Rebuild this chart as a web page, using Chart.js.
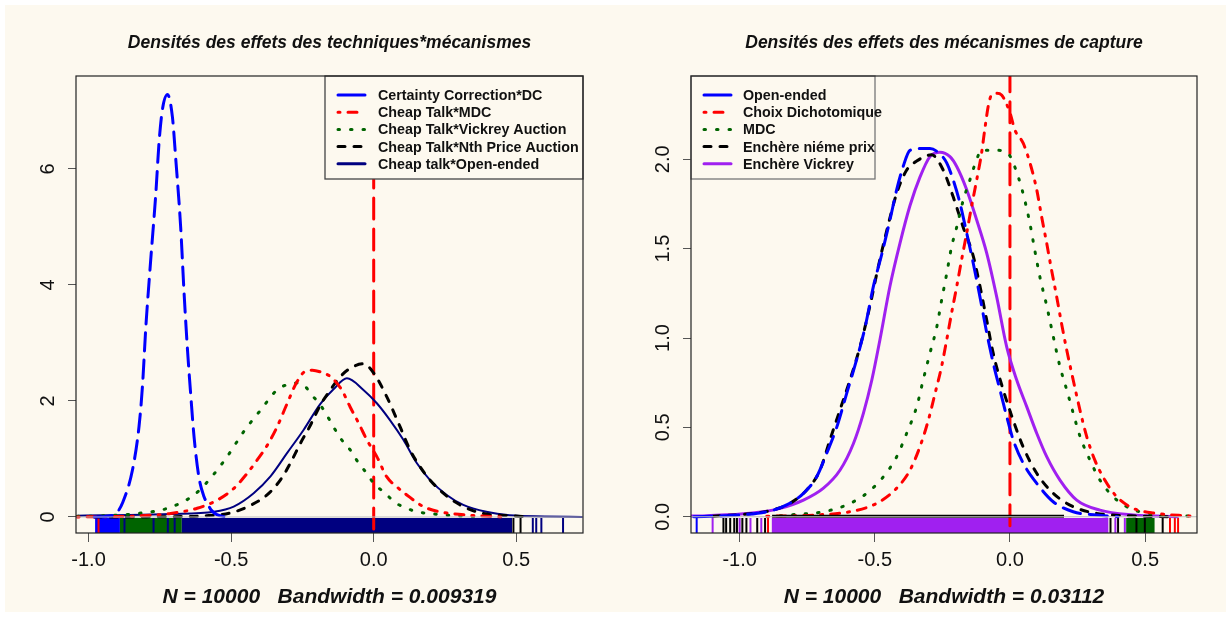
<!DOCTYPE html>
<html><head><meta charset="utf-8">
<script src="https://cdn.jsdelivr.net/npm/chart.js@4.4.0/dist/chart.umd.min.js"></script>
<style>
html,body{margin:0;padding:0;background:#fff;width:1231px;height:617px;overflow:hidden;position:relative;}
#bg{position:absolute;left:5px;top:5px;width:1221px;height:607px;background:#fdf9ef;}
canvas{position:absolute;top:0;}
#c1{left:0;}
#c2{left:615px;}
</style></head><body>
<div id="bg"></div>
<canvas id="c1" width="615" height="617"></canvas>
<canvas id="c2" width="616" height="617"></canvas>
<script>
// ---------- LEFT PANEL DATA ----------
const leftTitle = 'Densités des effets des techniques*mécanismes';
const leftSub = 'N = 10000   Bandwidth = 0.009319';
const leftLabels = ['Certainty Correction*DC','Cheap Talk*MDC','Cheap Talk*Vickrey Auction','Cheap Talk*Nth Price Auction','Cheap talk*Open-ended'];
const leftXTicks = [-1, -0.5, 0, 0.5];
const leftYTicks = [0, 2, 4, 6];

const ccdcX = [-0.98,-0.94,-0.91,-0.898,-0.881,-0.846,-0.823,-0.811,-0.799,-0.782,-0.764,-0.753,-0.741,-0.723,-0.706,-0.694,-0.677,-0.665,-0.653,-0.642,-0.630,-0.613,-0.595,-0.584,-0.57,-0.55,-0.52];
const ccdcY = [0.0,0.01,0.04,0.09,0.24,0.81,1.56,2.25,3.28,4.43,5.58,6.44,7.02,7.28,6.90,6.16,5.0,3.86,2.88,2.13,1.38,0.69,0.35,0.24,0.12,0.04,0.0];

const ctMdcX = [-1.04,-0.95,-0.87,-0.78,-0.712,-0.619,-0.549,-0.491,-0.444,-0.409,-0.374,-0.339,-0.304,-0.269,-0.24,-0.215,-0.187,-0.152,-0.112,-0.083,-0.053,-0.024,0.011,0.046,0.081,0.116,0.174,0.232,0.337,0.45];
const ctMdcY = [0.0,0.005,0.01,0.03,0.06,0.15,0.29,0.49,0.75,0.98,1.23,1.55,1.95,2.33,2.51,2.53,2.50,2.42,2.19,1.90,1.62,1.33,1.04,0.69,0.52,0.38,0.18,0.09,0.03,0.0];

const ctVickX = [-1.04,-0.946,-0.828,-0.723,-0.630,-0.572,-0.514,-0.456,-0.397,-0.339,-0.304,-0.270,-0.240,-0.222,-0.187,-0.158,-0.117,-0.083,-0.053,-0.024,0.0,0.04,0.075,0.116,0.151,0.197,0.29,0.38];
const ctVickY = [0.01,0.02,0.06,0.15,0.38,0.67,1.04,1.47,1.84,2.19,2.28,2.31,2.25,2.13,1.93,1.70,1.36,1.16,0.93,0.75,0.58,0.41,0.25,0.15,0.09,0.06,0.02,0.0];

const ctNthX = [-0.98,-0.7,-0.596,-0.502,-0.432,-0.374,-0.327,-0.292,-0.257,-0.222,-0.187,-0.152,-0.117,-0.083,-0.036,0.0,0.046,0.092,0.127,0.162,0.197,0.244,0.302,0.384,0.49,0.55];
const ctNthY = [0.0,0.005,0.02,0.07,0.2,0.38,0.64,0.93,1.27,1.58,1.93,2.19,2.42,2.56,2.64,2.48,2.07,1.56,1.16,0.87,0.64,0.41,0.21,0.06,0.02,0.0];

const ctOeX = [-1.04,-0.95,-0.712,-0.560,-0.491,-0.421,-0.362,-0.304,-0.246,-0.187,-0.141,-0.094,-0.036,0.011,0.057,0.104,0.151,0.197,0.256,0.314,0.395,0.477,0.6,0.73];
const ctOeY = [0.02,0.03,0.05,0.09,0.18,0.41,0.70,1.10,1.50,1.95,2.20,2.39,2.19,1.96,1.67,1.33,0.93,0.64,0.38,0.21,0.09,0.03,0.01,0.0];

// rug (observations along x) : dense ranges and single marks, per series
const leftRugBands = [[[-0.977,-0.89]], [], [[-0.89,-0.673]], [], [[-0.673,0.485]]];
const leftRugMarks = [[-0.97,-0.955,-0.93], [-0.965], [], [0.49,0.515], [-0.874,-0.772,-0.722,-0.698,0.558,0.570,0.588,0.664]];

// ---------- RIGHT PANEL DATA ----------
const rightTitle = 'Densités des effets des mécanismes de capture';
const rightSub = 'N = 10000   Bandwidth = 0.03112';
const rightLabels = ['Open-ended','Choix Dichotomique','MDC','Enchère niéme prix','Enchère Vickrey'];
const rightXTicks = [-1, -0.5, 0, 0.5];
const rightYTicks = [0, 0.5, 1, 1.5, 2];

const oeX = [-1.17,-1.0,-0.9,-0.826,-0.764,-0.715,-0.678,-0.641,-0.604,-0.567,-0.536,-0.505,-0.474,-0.444,-0.419,-0.395,-0.37,-0.333,-0.296,-0.259,-0.234,-0.210,-0.185,-0.160,-0.136,-0.111,-0.086,-0.062,-0.037,-0.012,0.012,0.049,0.099,0.16,0.234,0.32,0.4];
const oeY = [0.0,0.01,0.028,0.066,0.131,0.224,0.355,0.50,0.69,0.88,1.06,1.29,1.47,1.66,1.83,1.96,2.05,2.06,2.06,2.03,1.98,1.885,1.755,1.587,1.42,1.23,1.03,0.86,0.71,0.56,0.43,0.30,0.187,0.084,0.028,0.01,0.0];

const dichX = [-0.9,-0.715,-0.592,-0.493,-0.419,-0.37,-0.333,-0.302,-0.277,-0.253,-0.234,-0.216,-0.197,-0.179,-0.16,-0.142,-0.123,-0.105,-0.092,-0.08,-0.068,-0.049,-0.031,0.0,0.018,0.049,0.074,0.099,0.117,0.136,0.154,0.173,0.191,0.21,0.234,0.259,0.284,0.314,0.351,0.395,0.456,0.54,0.666];
const dichY = [0.003,0.01,0.028,0.075,0.16,0.26,0.392,0.54,0.69,0.84,0.99,1.139,1.288,1.437,1.587,1.736,1.885,2.035,2.18,2.30,2.36,2.37,2.36,2.26,2.165,2.09,1.98,1.83,1.68,1.53,1.38,1.23,1.08,0.933,0.765,0.597,0.448,0.317,0.205,0.112,0.047,0.019,0.004];

const mdcX = [-0.85,-0.814,-0.69,-0.604,-0.53,-0.468,-0.419,-0.382,-0.345,-0.321,-0.296,-0.271,-0.253,-0.234,-0.216,-0.197,-0.173,-0.148,-0.123,-0.105,-0.049,-0.006,0.031,0.055,0.074,0.092,0.111,0.136,0.16,0.185,0.21,0.234,0.259,0.296,0.333,0.382,0.444,0.54,0.666];
const mdcY = [0.005,0.01,0.028,0.066,0.131,0.224,0.336,0.467,0.616,0.765,0.915,1.06,1.21,1.36,1.51,1.62,1.77,1.885,2.0,2.05,2.05,2.03,1.90,1.77,1.64,1.49,1.34,1.18,1.01,0.84,0.71,0.58,0.45,0.317,0.205,0.112,0.047,0.013,0.004];

const nthX = [-1.1,-0.974,-0.888,-0.814,-0.752,-0.703,-0.666,-0.629,-0.592,-0.555,-0.518,-0.487,-0.456,-0.419,-0.382,-0.345,-0.29,-0.247,-0.210,-0.173,-0.136,-0.111,-0.086,-0.062,-0.025,0.012,0.049,0.099,0.16,0.234,0.32,0.45,0.6];
const nthY = [0.003,0.015,0.034,0.075,0.15,0.26,0.43,0.597,0.765,0.95,1.18,1.40,1.60,1.81,1.94,1.99,2.025,1.94,1.79,1.62,1.46,1.29,1.10,0.915,0.71,0.54,0.39,0.243,0.131,0.056,0.019,0.005,0.0];

const vickX = [-1.18,-1.12,-0.962,-0.85,-0.764,-0.69,-0.629,-0.579,-0.542,-0.511,-0.481,-0.444,-0.407,-0.37,-0.333,-0.296,-0.259,-0.222,-0.197,-0.16,-0.123,-0.086,-0.049,-0.012,0.025,0.062,0.099,0.136,0.185,0.247,0.333,0.456,0.54,0.62];
const vickY = [0.004,0.006,0.019,0.047,0.093,0.16,0.26,0.41,0.58,0.765,0.99,1.29,1.53,1.74,1.90,2.015,2.04,2.015,1.96,1.83,1.66,1.475,1.23,0.95,0.765,0.616,0.467,0.336,0.205,0.093,0.037,0.01,0.004,0.0];

// black base segment seen along y = 0 in the right panel
const nthBaseX = [-0.88, 0.2];
const nthBaseY = [0.003, 0.003];

const rightRugBands = [[], [], [[0.43,0.535]], [], [[-0.881,0.364]]];
const rightRugMarks = [[-1.159], [-0.895,0.592,0.61,0.622], [], [-1.06,-1.05,-1.035,-1.02,-1.01,-0.99,-0.975,-0.935,-0.906,0.372,0.40,0.468,0.499,0.565], [-1.10,-1.0,-0.96,-0.92,0.39,0.425]];

const refLineX = 0; // abline(v = 0)

// ---------- STYLES ----------
const BG = '#fdf9ef';
const LONGDASH=[18,9], DOTDASH=[2,8,9,8], DOTTED=[1.5,11], DASHED=[7,9], SOLID=[];
const leftColors = ['#0000FF','#FF0000','#006400','#000000','#000080'];
const rightColors = ['#0000FF','#FF0000','#006400','#000000','#A020F0'];
const curveDash = [LONGDASH, DOTDASH, DOTTED, DASHED, SOLID];
const legendDash = [SOLID, DOTDASH, DOTTED, DASHED, SOLID];
const leftWidths = [3,3,3,3,2];
const rightWidths = [3,3,3,3,3];

Chart.defaults.font.family = '"Liberation Sans", Arial, sans-serif';
Chart.defaults.color = '#111';

function curves(xs, ys, labels, colors, widths){
  return labels.map((lab,i)=>({
    label: lab,
    data: xs[i].map((x,j)=>({x:x, y:ys[i][j]})),
    borderColor: colors[i], borderWidth: widths[i], borderDash: curveDash[i],
    borderCapStyle:'round', borderJoinStyle:'round',
    pointRadius:0, cubicInterpolationMode:'monotone', fill:false
  }));
}

function rPlugin(p){
  return {
    id: 'rplot_' + p.key,
    beforeDatasetsDraw(chart){
      const ctx = chart.ctx, a = chart.chartArea, xs = chart.scales.x;
      ctx.save();
      ctx.beginPath(); ctx.rect(a.left, a.top, a.right-a.left, a.bottom-a.top); ctx.clip();
      const top = a.bottom - 15, h = 15;
      for (let i=0;i<p.colors.length;i++){
        ctx.fillStyle = p.colors[i]; ctx.strokeStyle = p.colors[i]; ctx.lineWidth = 2;
        p.bands[i].forEach(b=>{
          const x0 = xs.getPixelForValue(b[0]), x1 = xs.getPixelForValue(b[1]);
          ctx.fillRect(x0, top, x1-x0, h);
        });
        p.marks[i].forEach(v=>{
          const x = xs.getPixelForValue(v);
          ctx.beginPath(); ctx.moveTo(x, top); ctx.lineTo(x, a.bottom); ctx.stroke();
        });
      }
      ctx.restore();
    },
    afterDatasetsDraw(chart){
      const ctx = chart.ctx, a = chart.chartArea, ys = chart.scales.y;
      ctx.save();
      // legend
      const L = p.legend;
      const lx = L.alignRight ? a.right - L.w : a.left, ly = a.top;
      ctx.fillStyle = BG; ctx.fillRect(lx, ly, L.w, L.h);
      ctx.strokeStyle = L.border; ctx.lineWidth = 1.3; ctx.strokeRect(lx, ly, L.w, L.h);
      p.labels.forEach((lab,i)=>{
        const yy = ly + 19 + i*17.2;
        ctx.strokeStyle = p.colors[i]; ctx.lineWidth = 3; ctx.lineCap = 'round';
        ctx.setLineDash(legendDash[i]);
        ctx.beginPath(); ctx.moveTo(lx+13, yy); ctx.lineTo(lx+40, yy); ctx.stroke();
        ctx.setLineDash([]);
        ctx.fillStyle = '#111'; ctx.font = 'bold 14.3px "Liberation Sans", Arial, sans-serif';
        ctx.textAlign = 'left'; ctx.textBaseline = 'middle';
        ctx.fillText(lab, lx + L.tx, yy + 1);
      });
      // box
      ctx.strokeStyle = '#222'; ctx.lineWidth = 1.2; ctx.lineCap = 'butt';
      ctx.strokeRect(a.left, a.top, a.right-a.left, a.bottom-a.top);
      // rotated y tick labels
      ctx.fillStyle = '#111'; ctx.font = '20px "Liberation Sans", Arial, sans-serif';
      ctx.textAlign = 'center'; ctx.textBaseline = 'middle';
      p.yTicks.forEach(v=>{
        const y = ys.getPixelForValue(v);
        ctx.save(); ctx.translate(a.left - 28, y); ctx.rotate(-Math.PI/2);
        ctx.fillText(p.yFmt(v), 0, 0); ctx.restore();
      });
      // titles
      const cx = (a.left + a.right)/2;
      ctx.font = 'italic bold 17.5px "Liberation Sans", Arial, sans-serif';
      ctx.fillText(p.title, cx, 43);
      ctx.font = 'italic bold 21px "Liberation Sans", Arial, sans-serif';
      ctx.fillText(p.sub, cx, 597);
      ctx.restore();
    }
  };
}

function makeChart(id, o){
  const datasets = [];
  datasets.push({data:[{x:o.xMin-1,y:0},{x:o.xMax+1,y:0}], borderColor:'#bebebe', borderWidth:1, pointRadius:0, tension:0});
  (o.extra||[]).forEach(d=>datasets.push(d));
  curves(o.xs, o.ys, o.labels, o.colors, o.widths).forEach(d=>datasets.push(d));
  datasets.push({data:[{x:refLineX,y:o.yMin-1},{x:refLineX,y:o.yMax+1}], borderColor:'#FF0000', borderWidth:3,
    borderDash:[21,10], borderCapStyle:'round', pointRadius:0, tension:0});
  return new Chart(document.getElementById(id), {
    type:'line',
    data:{datasets},
    options:{
      responsive:false, animation:false, devicePixelRatio:1,
      layout:{padding:{left:0, right:o.padRight, top:76, bottom:0}},
      plugins:{legend:{display:false}, tooltip:{enabled:false}},
      scales:{
        x:{type:'linear', min:o.xMin, max:o.xMax,
           afterBuildTicks:s=>{s.ticks = o.xTicks.map(v=>({value:v}));},
           ticks:{callback:v=>Number(v).toFixed(1), font:{size:20}, color:'#111', padding:6, maxRotation:0, autoSkip:false},
           grid:{drawOnChartArea:false, drawTicks:true, tickLength:9, color:'#555', lineWidth:1},
           border:{display:false},
           afterFit:s=>{s.height = 84;}},
        y:{type:'linear', min:o.yMin, max:o.yMax,
           afterBuildTicks:s=>{s.ticks = o.yTicks.map(v=>({value:v}));},
           ticks:{display:false},
           grid:{drawOnChartArea:false, drawTicks:true, tickLength:8, color:'#555', lineWidth:1},
           border:{display:false},
           afterFit:s=>{s.width = 76;}}
      }
    },
    plugins:[rPlugin({key:id, colors:o.colors, labels:o.labels, bands:o.bands, marks:o.marks,
      yTicks:o.yTicks, yFmt:o.yFmt, title:o.title, sub:o.sub, legend:o.legend})]
  });
}

makeChart('c1', {
  xMin:-1.044, xMax:0.734, yMin:-0.276, yMax:7.6, padRight:32,
  xTicks:leftXTicks, yTicks:leftYTicks, yFmt:v=>String(v),
  xs:[ccdcX, ctMdcX, ctVickX, ctNthX, ctOeX], ys:[ccdcY, ctMdcY, ctVickY, ctNthY, ctOeY],
  labels:leftLabels, colors:leftColors, widths:leftWidths,
  bands:leftRugBands, marks:leftRugMarks,
  title:leftTitle, sub:leftSub,
  legend:{alignRight:true, w:258, h:103, tx:53, border:'#444'}
});

makeChart('c2', {
  xMin:-1.18, xMax:0.692, yMin:-0.091, yMax:2.466, padRight:34,
  xTicks:rightXTicks, yTicks:rightYTicks, yFmt:v=>v.toFixed(1),
  xs:[oeX, dichX, mdcX, nthX, vickX], ys:[oeY, dichY, mdcY, nthY, vickY],
  labels:rightLabels, colors:rightColors, widths:rightWidths,
  bands:rightRugBands, marks:rightRugMarks,
  title:rightTitle, sub:rightSub,
  legend:{alignRight:false, w:184, h:103, tx:52, border:'#777'},
  extra:[{data:nthBaseX.map((x,i)=>({x:x, y:nthBaseY[i]})), borderColor:'#000000', borderWidth:3, pointRadius:0, tension:0}]
});
</script>
</body></html>
